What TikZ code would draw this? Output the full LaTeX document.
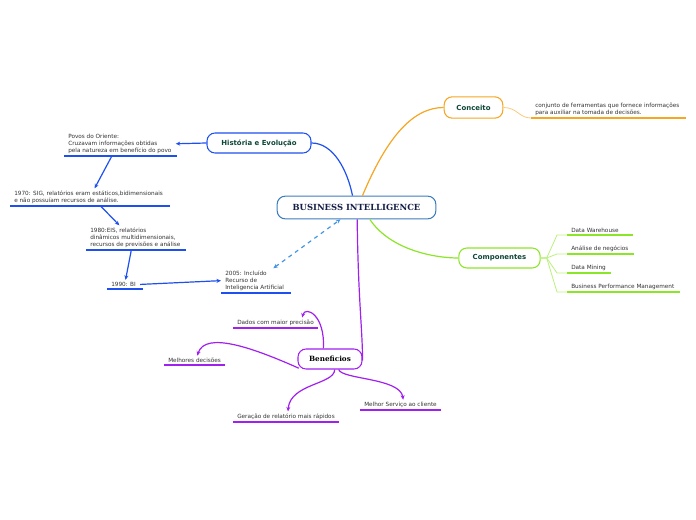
\documentclass[tikz,border=0pt]{standalone}
\usepackage{fontspec}
\usetikzlibrary{arrows.meta}
\newfontfamily\verd{DejaVu Sans}
\newfontfamily\titlefont{DejaVu Serif}
\definecolor{histBlue}{RGB}{30,80,240}
\definecolor{concOrange}{RGB}{245,166,35}
\definecolor{compLime}{RGB}{140,230,40}
\definecolor{benPurple}{RGB}{160,32,240}
\definecolor{mainBlue}{RGB}{60,125,190}
\definecolor{dashBlue}{RGB}{70,150,230}
\definecolor{topicText}{RGB}{12,70,55}
\definecolor{leafText}{RGB}{50,50,50}
\definecolor{titleText}{RGB}{20,30,70}

\begin{document}
\begin{tikzpicture}[
  x=0.75pt, y=-0.75pt,
  topic/.style={draw, line width=0.8pt, rounded corners=6pt, fill=white, inner sep=0pt,
    text=topicText, font=\verd\bfseries\fontsize{5.2}{6}\selectfont},
  leaf/.style={anchor=south west, inner xsep=3pt, inner ysep=1.6pt, align=left,
    text=leafText, font=\verd\fontsize{4.3}{5.3}\selectfont},
  uline/.style={line width=1.5pt},
  link/.style={line width=0.9pt},
  >={Stealth[length=3.4pt,width=3pt]}
]
  \useasboundingbox (0,0) rectangle (696,520);

  % topics
  \node[topic, draw=mainBlue, minimum width=119pt, minimum height=17pt, text=titleText,
    font=\titlefont\bfseries\fontsize{6.3}{7}\selectfont] (bi) at (356.5,207.5) {BUSINESS INTELLIGENCE};
  \node[topic, draw=histBlue, minimum width=78pt, minimum height=15pt] (hist) at (259,143) {História e Evolução};
  \node[topic, draw=concOrange, minimum width=44pt, minimum height=16pt] (conc) at (473.5,107.5) {Conceito};
  \node[topic, draw=compLime, minimum width=61pt, minimum height=15pt] (comp) at (499.5,258) {Componentes};
  \node[topic, draw=benPurple, minimum width=48pt, minimum height=15pt, text=black,
    font=\titlefont\bfseries\fontsize{5.4}{7}\selectfont] (benef) at (330,359) {Beneficios};

  % História e Evolução
  \node[leaf] (povos) at (64,156) {Povos do Oriente:\\Cruzavam informações obtidas\\pela natureza em benefício do povo};
  \node[leaf] (sig) at (10,206) {1970: SIG, relatórios eram estáticos,bidimensionais\\ e não possuíam recursos de análise.};
  \node[leaf] (eis) at (86,250) {1980:EIS, relatórios\\dinâmicos multidimensionais,\\recursos de previsões e análise};
  \node[leaf] (bi90) at (107,289) {1990: BI};
  \node[leaf] (ia) at (221,293) {2005: Incluído\\Recurso de\\Inteligencia Artificial};
  \draw[uline, histBlue] (povos.south west) -- +(113,0);
  \draw[uline, histBlue] (sig.south west) -- +(160,0);
  \draw[uline, histBlue] (eis.south west) -- +(100,0);
  \draw[uline, histBlue] (bi90.south west) -- +(36,0);
  \draw[uline, histBlue] (ia.south west) -- +(70,0);

  \draw[link, histBlue] (hist.east) .. controls +(22,0) and +(-5,-25) .. ([xshift=-3pt]bi.north);
  \draw[link, histBlue, ->] (hist.west) -- (povos.east);
  \draw[link, histBlue, ->] ([xshift=-6pt]povos.south) -- ([xshift=4.5pt]sig.north);
  \draw[link, histBlue, ->] ([xshift=9pt]sig.south) -- ([xshift=-12pt]eis.north);
  \draw[link, histBlue, ->] ([xshift=-3pt]eis.south) -- ([xshift=1.5pt]bi90.north);
  \draw[link, histBlue, ->] (bi90.east) -- (ia.west);
  \draw[link, dashBlue, dashed, <->] ([xshift=14pt]ia.north) -- ([xshift=-12pt]bi.south);

  % Conceito
  \node[leaf] (conctxt) at (531,118) {conjunto de ferramentas que fornece informações\\para auxiliar na tomada de decisões.};
  \draw[uline, concOrange] (conctxt.south west) -- +(155,0);
  \draw[link, concOrange] ([xshift=4.5pt]bi.north) .. controls +(25,-60) and +(-30,0) .. (conc.west);
  \draw[line width=0.6pt, concOrange!60] (conc.east) .. controls +(14,0) and +(-12,0) .. (conctxt.south west);

  % Componentes
  \node[leaf] (dw) at (567,235) {Data Warehouse};
  \node[leaf] (an) at (567,254) {Análise de negócios};
  \node[leaf] (dm) at (567,273) {Data Mining};
  \node[leaf] (bpm) at (567,292) {Business Performance Management};
  \draw[uline, compLime] (dw.south west) -- +(66,0);
  \draw[uline, compLime] (an.south west) -- +(67,0);
  \draw[uline, compLime] (dm.south west) -- +(44,0);
  \draw[uline, compLime] (bpm.south west) -- +(113,0);
  \draw[link, compLime] ([xshift=10pt]bi.south) .. controls +(20,30) and +(-25,0) .. (comp.west);
  \foreach \n in {dw,an,dm,bpm}
    \draw[line width=0.6pt, compLime!60] (comp.east) -- ++(6,0) -- ([xshift=-7.5pt]\n.south west) -- (\n.south west);

  % Beneficios
  \node[leaf] (dados) at (233,328) {Dados com maior precisão};
  \node[leaf] (melh) at (164,365) {Melhores decisões};
  \node[leaf] (ger) at (233,422) {Geração de relatório mais rápidos};
  \node[leaf] (serv) at (360,410) {Melhor Serviço ao cliente};
  \draw[uline, benPurple] (dados.south west) -- +(85,0);
  \draw[uline, benPurple] (melh.south west) -- +(61,0);
  \draw[uline, benPurple] (ger.south west) -- +(106,0);
  \draw[uline, benPurple] (serv.south west) -- +(81,0);
  \draw[link, benPurple] ([xshift=0.5pt]bi.south) .. controls +(1,80) and +(0,-30) .. ([yshift=-1pt]benef.east);
  \draw[link, benPurple, ->] ([xshift=-5pt]benef.north) .. controls +(2,-34) and +(3,-12) .. ([xshift=20pt]dados.north);
  \draw[link, benPurple, ->] ([xshift=1pt,yshift=1pt]benef.south west) .. controls +(-45,-20) and +(8,-25) .. ([xshift=2pt]melh.north);
  \draw[link, benPurple, ->] ([xshift=3.5pt]benef.south) .. controls +(0,15) and +(2,-28) .. ([xshift=1.5pt]ger.north);
  \draw[link, benPurple, ->] ([xshift=6.5pt]benef.south) .. controls +(3,10) and +(-3,-22) .. ([xshift=2pt]serv.north);
\end{tikzpicture}
\end{document}
